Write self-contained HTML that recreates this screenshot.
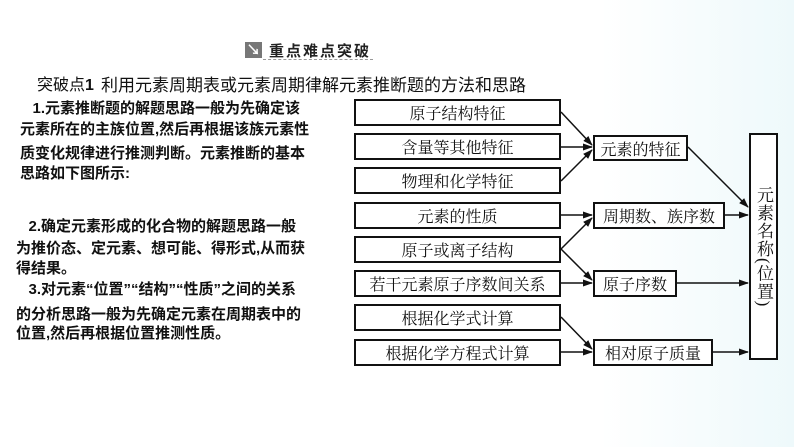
<!DOCTYPE html>
<html><head><meta charset="utf-8">
<style>
*{margin:0;padding:0;box-sizing:border-box}
body{width:794px;height:447px;background:#fff;position:relative;overflow:hidden;font-family:"Liberation Sans","Noto Sans CJK SC",sans-serif;color:#111}
.t{position:absolute;white-space:nowrap}
.p{position:absolute;left:20px;font-size:15px;font-weight:bold;white-space:nowrap;line-height:22px}
.b{position:absolute;border:2px solid #111;background:#fff;font-size:16px;font-family:"Liberation Serif","Noto Serif CJK SC",serif;display:flex;align-items:center;justify-content:center;white-space:nowrap}
</style></head><body>
<div style="position:absolute;left:600px;top:0;width:194px;height:447px;background:linear-gradient(90deg,#fff,#eef9fb)"></div>
<div class="t" style="left:245px;top:42px;width:17px;height:16px;background:#777;color:#fff;font-size:14px;line-height:16px;text-align:center;font-weight:bold">↘</div>
<div class="t" style="left:269px;top:40px;font-size:15px;font-weight:bold;letter-spacing:2px;color:#222">重点难点突破</div>
<div style="position:absolute;left:263px;top:59px;width:110px;border-top:1px dashed #999"></div>
<div class="t" style="left:37px;top:71px;font-size:16px">突破点<b>1</b></div>
<div class="t" style="left:101px;top:71px;font-size:17px">利用元素周期表或元素周期律解元素推断题的方法和思路</div>

<div class="p" style="top:98px">&nbsp;&nbsp;&nbsp;1.元素推断题的解题思路一般为先确定该</div>
<div class="p" style="top:119px">元素所在的主族位置,然后再根据该族元素性</div>
<div class="p" style="top:143px">质变化规律进行推测判断。元素推断的基本</div>
<div class="p" style="top:163px">思路如下图所示:</div>
<div class="p" style="top:216px;left:16px">&nbsp;&nbsp;&nbsp;2.确定元素形成的化合物的解题思路一般</div>
<div class="p" style="top:238px;left:16px">为推价态、定元素、想可能、得形式,从而获</div>
<div class="p" style="top:258px;left:16px">得结果。</div>
<div class="p" style="top:279px;left:16px">&nbsp;&nbsp;&nbsp;3.对元素“位置”“结构”“性质”之间的关系</div>
<div class="p" style="top:304px;left:16px">的分析思路一般为先确定元素在周期表中的</div>
<div class="p" style="top:323px;left:16px">位置,然后再根据位置推测性质。</div>

<div class="b" style="left:354px;top:99px;width:207px;height:27px">原子结构特征</div>
<div class="b" style="left:354px;top:133px;width:207px;height:27px">含量等其他特征</div>
<div class="b" style="left:354px;top:167px;width:207px;height:27px">物理和化学特征</div>
<div class="b" style="left:354px;top:202px;width:207px;height:27px">元素的性质</div>
<div class="b" style="left:354px;top:236px;width:207px;height:27px">原子或离子结构</div>
<div class="b" style="left:354px;top:270px;width:207px;height:27px">若干元素原子序数间关系</div>
<div class="b" style="left:354px;top:304px;width:207px;height:27px">根据化学式计算</div>
<div class="b" style="left:354px;top:339px;width:207px;height:27px">根据化学方程式计算</div>

<div class="b" style="left:593px;top:135px;width:95px;height:26px">元素的特征</div>
<div class="b" style="left:593px;top:202px;width:132px;height:27px">周期数、族序数</div>
<div class="b" style="left:593px;top:270px;width:84px;height:27px">原子序数</div>
<div class="b" style="left:593px;top:339px;width:120px;height:27px">相对原子质量</div>
<div class="b" style="left:749px;top:133px;width:29px;height:227px;writing-mode:vertical-rl;font-size:17px;line-height:25px;letter-spacing:1px">元素名称(位置)</div>

<svg width="794" height="447" style="position:absolute;left:0;top:0">
<defs><marker id="a" markerWidth="10" markerHeight="8" refX="9" refY="4" orient="auto" markerUnits="userSpaceOnUse"><path d="M0,0.5 L10,4 L0,7.5 Z" fill="#111"/></marker></defs>
<g stroke="#111" stroke-width="1.5" fill="none" marker-end="url(#a)">
<line x1="561" y1="112" x2="592" y2="145"/>
<line x1="561" y1="147" x2="592" y2="147"/>
<line x1="561" y1="181" x2="592" y2="150"/>
<line x1="688" y1="147" x2="748" y2="207"/>
<line x1="561" y1="215" x2="592" y2="215"/>
<line x1="561" y1="249" x2="592" y2="218"/>
<line x1="561" y1="249" x2="592" y2="280"/>
<line x1="561" y1="283" x2="592" y2="283"/>
<line x1="725" y1="215" x2="748" y2="215"/>
<line x1="677" y1="283" x2="748" y2="283"/>
<line x1="561" y1="317" x2="592" y2="349"/>
<line x1="561" y1="352" x2="592" y2="352"/>
<line x1="713" y1="352" x2="748" y2="352"/>
</g></svg>
</body></html>
